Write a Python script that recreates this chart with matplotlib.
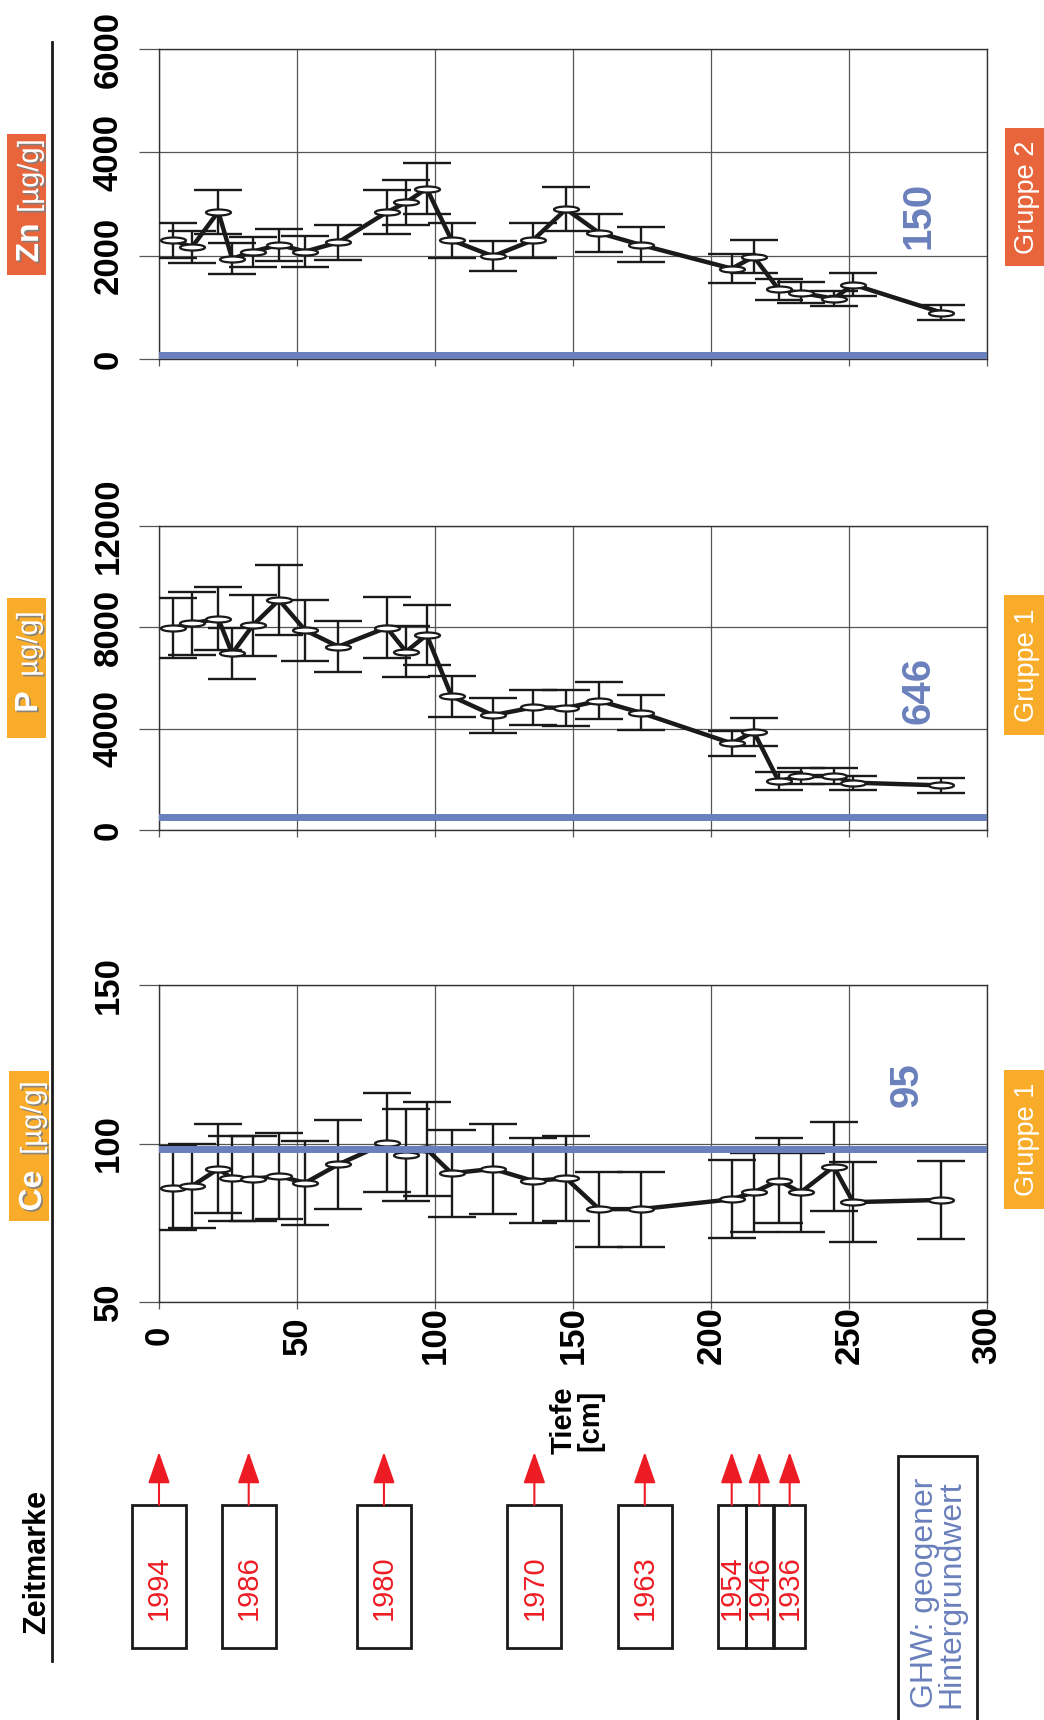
import matplotlib
matplotlib.use('Agg')
import matplotlib.pyplot as plt
import matplotlib.patheffects as pe
from matplotlib.path import Path
from matplotlib.transforms import Affine2D
from matplotlib.patches import Rectangle

plt.rcParams['font.family'] = ['Liberation Sans', 'DejaVu Sans']

# Tiefe der Proben [cm]
depth = [5, 12, 21.5, 26.5, 34, 43.5, 53, 65, 82.5, 89.5, 97, 106, 121,
         135.5, 147.5, 159.5, 174.5, 207.5, 215.5, 224.5, 232.5, 244.5, 251.5, 283.5]

zn = [2300, 2170, 2850, 1940, 2080, 2210, 2080, 2260, 2840, 3030, 3300, 2300, 1990,
      2300, 2900, 2440, 2210, 1750, 1980, 1350, 1280, 1170, 1440, 900]
zn_err = [340, 310, 430, 300, 290, 310, 300, 340, 430, 440, 490, 340, 290,
          340, 425, 370, 340, 275, 320, 205, 205, 150, 220, 140]

p = [7970, 8160, 8340, 6970, 8080, 9080, 7880, 7240, 7990, 7040, 7700, 5280, 4530,
     4840, 4820, 5100, 4630, 3420, 3880, 1930, 2130, 2130, 1870, 1760]
p_err = [1200, 1250, 1250, 1000, 1200, 1400, 1200, 1000, 1200, 1000, 1200, 800, 700,
         700, 700, 730, 690, 500, 550, 350, 300, 300, 280, 280]

ce = [86.0, 86.6, 92.0, 89.0, 88.9, 89.7, 87.6, 93.4, 100.3, 96.4, 98.2, 90.6, 92.0,
      88.2, 89.0, 79.3, 79.3, 82.4, 84.6, 88.3, 84.6, 92.7, 81.5, 82.2]
ce_err = [13.3, 13.3, 14, 13.3, 13.5, 13.5, 13.3, 14, 15.5, 14.4, 14.8, 13.7, 14.2,
          13.4, 13.4, 11.8, 11.8, 12.3, 12.5, 13.3, 12.4, 14, 12.6, 12.2]

# geogener Hintergrundwert (Beschriftung / gezeichnete Linie)
ghw_label = ['150', '646', '95']
ghw_level = [70, 500, 98.2]

zeit_years = ['1994', '1986', '1980', '1970', '1963', '1954', '1946', '1936']
zeit_depth = [0, 32.5, 81.5, 136, 176, 207.5, 217.5, 228.5]

BLUE = '#6a80bc'
ORANGE = '#e8643a'
AMBER = '#f9ab2a'
RED = '#ed1c24'
INK = '#1a1a1a'

W, H = 1044, 1720
def fx(px):
    return px / W
def fy(py):
    return 1 - py / H

fig = plt.figure(figsize=(W / 100, H / 100), dpi=100)

ellipse = Path.unit_circle().transformed(Affine2D().scale(1, 0.24))
shadow = [pe.SimplePatchShadow(offset=(1.2, -1.2), shadow_rgbFace='#808080', alpha=0.9), pe.Normal()]

panels = [
    dict(vals=zn, err=zn_err, ylim=(0, 6000), ticks=[0, 2000, 4000, 6000], top=49, bot=359,
         elem='Zn', unit='[µg/g]', col=ORANGE, grp='Gruppe 2', gi=0,
         lbox=(7, 134, 46, 275), el_y=243, unit_y=176, base_x=38,
         gbox=(1005, 128, 1044, 266), gpos=(275, 2770)),
    dict(vals=p, err=p_err, ylim=(0, 12000), ticks=[0, 4000, 8000, 12000], top=526, bot=830,
         elem='P', unit='µg/g]', col=AMBER, grp='Gruppe 1', gi=1,
         lbox=(7, 598, 46, 738), el_y=702, unit_y=644, base_x=37,
         gbox=(1004, 595, 1044, 735), gpos=(275, 5520)),
    dict(vals=ce, err=ce_err, ylim=(50, 150), ticks=[50, 100, 150], top=985, bot=1302,
         elem='Ce', unit='[µg/g]', col=AMBER, grp='Gruppe 1', gi=2,
         lbox=(9, 1071, 49, 1221), el_y=1191, unit_y=1118, base_x=41,
         gbox=(1004, 1070, 1044, 1209), gpos=(271, 118.5)),
]

for i, s in enumerate(panels):
    ax = fig.add_axes([fx(159), fy(s['bot']), fx(987) - fx(159), (s['bot'] - s['top']) / H])
    ax.set_xlim(0, 300)
    ax.set_ylim(*s['ylim'])
    ax.set_xticks(range(0, 301, 50))
    ax.set_yticks(s['ticks'])
    ax.set_axisbelow(True)
    ax.grid(True, color='#555555', lw=0.9)
    for sp in ax.spines.values():
        sp.set_color('#333333')
        sp.set_linewidth(1.0)
    ax.tick_params(axis='y', direction='out', length=14.5, width=0.9, color='#555555',
                   pad=10, labelsize=25, labelrotation=90)
    ax.tick_params(axis='x', direction='out', length=5, width=0.9, color='#555555',
                   pad=19, labelsize=25, labelrotation=90)
    for lab in ax.get_yticklabels():
        lab.set_fontweight('bold')
        lab.set_va('center')
    if i < 2:
        ax.set_xticklabels([])
    else:
        for lab in ax.get_xticklabels():
            lab.set_fontweight('bold')
            lab.set_va('center')

    ax.errorbar(depth, s['vals'], yerr=s['err'], fmt='none', ecolor=INK,
                elinewidth=1.7, capsize=17, capthick=1.7, zorder=3)
    ax.plot(depth, s['vals'], color=INK, lw=3.2, marker=ellipse, ms=18,
            mfc='white', mec=INK, mew=1.6, zorder=4)
    ax.axhline(ghw_level[s['gi']], color=BLUE, lw=5, zorder=5)
    ax.text(*s['gpos'], ghw_label[s['gi']], color=BLUE, fontsize=29, fontweight='bold',
            rotation=90, ha='center', va='center')

    # Element-Beschriftung links
    x0, y0, x1, y1 = s['lbox']
    fig.add_artist(Rectangle((fx(x0), fy(y1)), fx(x1) - fx(x0), (y1 - y0) / H,
                             transform=fig.transFigure, color=s['col'], lw=0))
    fig.text(fx(s['base_x']), fy(s['el_y']), s['elem'], rotation=90, rotation_mode='anchor',
             ha='center', va='baseline', color='white', fontsize=23, fontweight='bold',
             path_effects=shadow)
    fig.text(fx(s['base_x']), fy(s['unit_y']), s['unit'], rotation=90, rotation_mode='anchor',
             ha='center', va='baseline', color='white', fontsize=21, path_effects=shadow)

    # Gruppe rechts
    x0, y0, x1, y1 = s['gbox']
    fig.add_artist(Rectangle((fx(x0), fy(y1)), fx(x1) - fx(x0), (y1 - y0) / H,
                             transform=fig.transFigure, color=s['col'], lw=0))
    fig.text(fx(1034), fy((y0 + y1) / 2), s['grp'], rotation=90, rotation_mode='anchor',
             ha='center', va='baseline', color='white', fontsize=19.5)

# Zeitmarken
axb = fig.add_axes([fx(159), fy(1665), fx(987) - fx(159), (1665 - 1440) / H])
axb.set_xlim(0, 300)
axb.set_ylim(1665, 1440)
axb.set_axis_off()
n = len(zeit_depth)
for i, (d, yr) in enumerate(zip(zeit_depth, zeit_years)):
    left = min(9.8, (d - zeit_depth[i - 1]) / 2) if i > 0 else 9.8
    right = min(9.8, (zeit_depth[i + 1] - d) / 2) if i < n - 1 else 9.8
    hw = min(left, right)
    axb.add_patch(Rectangle((d - hw, 1505), 2 * hw, 143, fill=False, ec=INK, lw=2, clip_on=False))
    axb.annotate('', xy=(d, 1452), xytext=(d, 1505),
                 arrowprops=dict(arrowstyle='-|>,head_length=1.95,head_width=0.68',
                                 mutation_scale=10, color=RED, lw=1.5,
                                 shrinkA=0, shrinkB=0), annotation_clip=False)
    axb.text(d, 1588, yr, rotation=90, ha='center', va='center', color=RED, fontsize=21)

fig.text(fx(37), fy(1562), 'Zeitmarke', rotation=90, ha='center', va='center',
         fontsize=22, fontweight='bold')
fig.text(fx(577), fy(1420), 'Tiefe\n[cm]', rotation=90, ha='center', va='center',
         multialignment='center', fontsize=21, fontweight='bold', linespacing=0.9)

# linke Trennlinie
fig.add_artist(plt.Line2D([fx(52), fx(52)], [fy(42), fy(1661)], transform=fig.transFigure,
                          color=INK, lw=2))

# Legende GHW
fig.add_artist(Rectangle((fx(898), fy(1730)), fx(977) - fx(898), (1730 - 1456) / H,
                         transform=fig.transFigure, fill=False, ec=INK, lw=2))
fig.text(fx(938), fy(1708), 'GHW: geogener\nHintergrundwert', rotation=90, ha='center',
         va='bottom', multialignment='left', color=BLUE, fontsize=23, linespacing=0.85)

fig.savefig('out.png', dpi=100)
